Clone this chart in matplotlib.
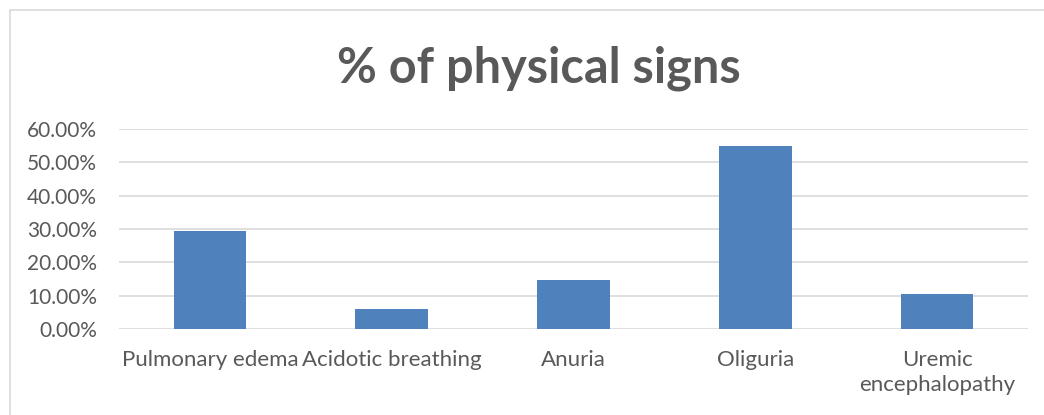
import matplotlib.pyplot as plt
from matplotlib.patches import Rectangle
from matplotlib.ticker import PercentFormatter

# Data
signs = ["Pulmonary edema", "Acidotic breathing", "Anuria", "Oliguria", "Uremic\nencephalopathy"]
percent = [29.4, 6.1, 14.6, 54.9, 10.5]

text_color = "#595959"
plt.rcParams["font.family"] = ["Lato", "DejaVu Sans"]

fig = plt.figure(figsize=(10.44, 4.15), dpi=100)
# light outer chart border (cropped at right/bottom like the screenshot)
fig.patches.append(Rectangle((10 / 1044, -0.05), 1.1, 1 - 10 / 415 + 0.05,
                             transform=fig.transFigure, fill=False,
                             edgecolor="#d9d9d9", linewidth=1.2))

ax = fig.add_axes([119 / 1044, 1 - 329 / 415, (1028 - 119) / 1044, 200 / 415])
ax.bar(range(len(signs)), percent, width=0.4, color="#4f81bd", zorder=3)

ax.set_xlim(-0.5, len(signs) - 0.5)
ax.set_ylim(0, 60)
ax.set_yticks(range(0, 61, 10))
ax.yaxis.set_major_formatter(PercentFormatter(decimals=2))
ax.set_xticks(range(len(signs)))
ax.set_xticklabels(signs, linespacing=1.35)

ax.grid(axis="y", color="#d9d9d9", linewidth=1.2, zorder=0)
for s in ax.spines.values():
    s.set_visible(False)
ax.tick_params(length=0, colors=text_color)
ax.tick_params(axis="y", pad=16, labelsize=15)
ax.tick_params(axis="x", pad=15, labelsize=16)
for lbl in ax.get_yticklabels():
    lbl.set_horizontalalignment("right")

fig.text(539 / 1044, 1 - 68 / 415, "% of physical signs", ha="center", va="center",
         fontsize=35, fontweight="bold", color=text_color)

fig.savefig("out.png", dpi=100)
